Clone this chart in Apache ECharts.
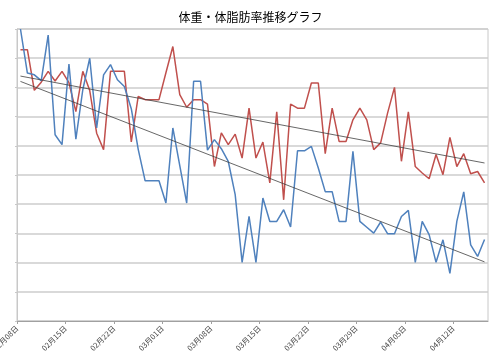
<!DOCTYPE html>
<html>
<head>
<meta charset="utf-8">
<script src="https://cdn.jsdelivr.net/npm/echarts@6/dist/echarts.min.js"></script>
<style>
html, body { margin: 0; padding: 0; background: #fff; }
#chart { width: 501px; height: 354px; }
</style>
</head>
<body>
<div id="chart"></div>
<script>
// 日付 (02/08 - 04/16)
const fechas = [
  '02月08日','02月09日','02月10日','02月11日','02月12日','02月13日','02月14日',
  '02月15日','02月16日','02月17日','02月18日','02月19日','02月20日','02月21日',
  '02月22日','02月23日','02月24日','02月25日','02月26日','02月27日','02月28日',
  '03月01日','03月02日','03月03日','03月04日','03月05日','03月06日','03月07日',
  '03月08日','03月09日','03月10日','03月11日','03月12日','03月13日','03月14日',
  '03月15日','03月16日','03月17日','03月18日','03月19日','03月20日','03月21日',
  '03月22日','03月23日','03月24日','03月25日','03月26日','03月27日','03月28日',
  '03月29日','03月30日','03月31日','04月01日','04月02日','04月03日','04月04日',
  '04月05日','04月06日','04月07日','04月08日','04月09日','04月10日','04月11日',
  '04月12日','04月13日','04月14日','04月15日','04月16日'
];

// 体重 (赤)
const taiju = [
  9.29, 9.29, 7.90, 8.18, 8.55, 8.22, 8.55, 8.16, 7.17, 8.55,
  7.89, 6.43, 5.87, 8.55, 8.55, 8.55, 6.13, 7.69, 7.58, 7.58,
  7.58, 8.50, 9.40, 7.75, 7.32, 7.58, 7.58, 7.43, 5.29, 6.44,
  6.04, 6.40, 5.58, 7.29, 5.58, 6.13, 4.73, 7.16, 4.15, 7.43,
  7.29, 7.29, 8.15, 8.15, 5.73, 7.29, 6.15, 6.15, 6.89, 7.29,
  6.89, 5.87, 6.10, 7.12, 8.00, 5.47, 7.16, 5.29, 5.07, 4.87,
  5.70, 5.01, 6.29, 5.29, 5.73, 5.04, 5.12, 4.73
];

// 体脂肪率 (青)
const taishibo = [
  10.0, 8.49, 8.43, 8.23, 9.79, 6.38, 6.04, 8.80, 6.23, 7.92,
  9.00, 6.61, 8.43, 8.78, 8.26, 8.03, 7.27, 5.88, 4.80, 4.80,
  4.80, 4.04, 6.61, 5.32, 4.04, 8.21, 8.21, 5.85, 6.21, 5.90,
  5.47, 4.33, 2.01, 3.58, 2.01, 4.21, 3.41, 3.41, 3.81, 3.22,
  5.83, 5.83, 5.98, 5.24, 4.43, 4.43, 3.41, 3.41, 5.81, 3.41,
  3.21, 3.01, 3.39, 2.99, 2.99, 3.58, 3.79, 2.01, 3.41, 2.96,
  2.01, 2.78, 1.63, 3.41, 4.42, 2.61, 2.21, 2.79
];

const fuente = 'Noto Sans CJK JP';

// 各日の中央に点を置く
function puntos(valores) {
    return valores.map((v, i) => [i + 0.5, v]);
}

// 近似直線 (最小二乗)
function tendencia(valores) {
    const n = valores.length;
    let sx = 0, sy = 0, sxx = 0, sxy = 0;
    valores.forEach((v, i) => {
        sx += i; sy += v; sxx += i * i; sxy += i * v;
    });
    const b = (n * sxy - sx * sy) / (n * sxx - sx * sx);
    const a = (sy - b * sx) / n;
    return [[0.5, a], [n - 0.5, a + b * (n - 1)]];
}

const chart = echarts.init(document.getElementById('chart'));
chart.setOption({
    animation: false,
    title: {
        text: '体重・体脂肪率推移グラフ',
        left: 'center',
        top: 6,
        textStyle: { fontFamily: fuente, fontSize: 12, fontWeight: 'normal', color: '#000' }
    },
    grid: {
        left: 17, right: 13, top: 29, bottom: 33,
        outerBoundsMode: 'none',
        containLabel: false,
        show: true, borderColor: '#c8c8c8', borderWidth: 1
    },
    xAxis: {
        type: 'value',
        min: 0,
        max: fechas.length,
        interval: 7,
        axisLine: { lineStyle: { color: '#a0a0a0' } },
        axisTick: { show: true, length: 3, lineStyle: { color: '#a0a0a0' } },
        splitLine: { show: false },
        axisLabel: {
            rotate: 45,
            fontFamily: fuente,
            fontSize: 7.5,
            color: '#404040',
            margin: 6,
            showMaxLabel: false,
            formatter: v => (v % 7 === 0 && fechas[v]) ? fechas[v] : ''
        }
    },
    yAxis: {
        type: 'value',
        min: 0,
        max: 10,
        interval: 1,
        axisLine: { show: true, lineStyle: { color: '#c8c8c8' } },
        axisTick: { show: true, length: 2, lineStyle: { color: '#c8c8c8' } },
        axisLabel: { show: false },
        splitLine: { lineStyle: { color: '#cccccc', width: 1.5 } }
    },
    series: [
        {
            name: '体重',
            type: 'line',
            data: puntos(taiju),
            showSymbol: false,
            lineStyle: { color: '#c0504d', width: 1.5 },
            z: 3
        },
        {
            name: '体脂肪率',
            type: 'line',
            data: puntos(taishibo),
            showSymbol: false,
            lineStyle: { color: '#4f81bd', width: 1.5 },
            z: 3
        },
        {
            name: '体重 近似',
            type: 'line',
            data: tendencia(taiju),
            showSymbol: false,
            lineStyle: { color: '#404040', width: 0.8 },
            z: 4
        },
        {
            name: '体脂肪率 近似',
            type: 'line',
            data: tendencia(taishibo),
            showSymbol: false,
            lineStyle: { color: '#404040', width: 0.8 },
            z: 4
        }
    ]
});
</script>
</body>
</html>
